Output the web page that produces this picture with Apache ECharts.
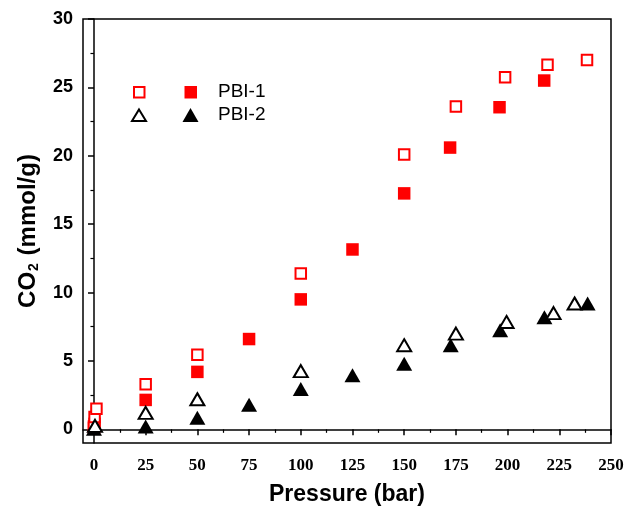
<!DOCTYPE html>
<html>
<head>
<meta charset="utf-8">
<script src="https://cdn.jsdelivr.net/npm/echarts@6/dist/echarts.min.js"></script>
<style>
  html, body { margin: 0; padding: 0; background: #fff; }
  #chart { width: 627px; height: 511px; }
</style>
</head>
<body>
<div id="chart"></div>
<script>
// CO2 uptake vs pressure for PBI-1 and PBI-2 (open and filled markers)
const xTicks = [0, 25, 50, 75, 100, 125, 150, 175, 200, 225, 250];
const xMinorTicks = [12.5, 37.5, 62.5, 87.5, 112.5, 137.5, 162.5, 187.5, 212.5, 237.5];
const yTicks = [0, 5, 10, 15, 20, 25, 30];
const yMinorTicks = [2.5, 7.5, 12.5, 17.5, 22.5, 27.5];

const pbi1Open = [[0, 0.2], [0.3, 0.9], [1.2, 1.5], [25, 3.3], [50, 5.45], [100, 11.4], [150, 20.1],
  [175, 23.6], [198.8, 25.75], [219.3, 26.65], [238.4, 27.0]];
const pbi1Filled = [[0, 0.1], [0.3, 0.4], [25, 2.15], [50, 4.2], [75, 6.6], [100, 9.5], [125, 13.15],
  [150, 17.25], [172.2, 20.6], [196.1, 23.55], [217.7, 25.5]];
const pbi2Open = [[0.5, 0.25], [25, 1.2], [50, 2.2], [100, 4.25], [150, 6.15], [175, 7.0],
  [199.5, 7.85], [222.2, 8.5], [232.4, 9.2]];
const pbi2Filled = [[0, 0.05], [25, 0.2], [50, 0.85], [75, 1.8], [100, 2.95], [125, 3.95],
  [150, 4.8], [172.5, 6.15], [196.4, 7.25], [217.8, 8.2], [238.7, 9.2]];

const RED = '#ff0000';
const BLACK = '#000000';
const sans = 'Liberation Sans, Arial, sans-serif';
const serif = 'Liberation Serif, Times New Roman, serif';

const chart = echarts.init(document.getElementById('chart'));

const baseX = { type: 'value', min: -5.3, max: 250, gridIndex: 0, position: 'bottom', splitLine: { show: false } };
const baseY = { type: 'value', min: -1, max: 30, gridIndex: 0, position: 'left', splitLine: { show: false } };

chart.setOption({
  animation: false,
  backgroundColor: '#fff',
  grid: { left: 83, right: 16, top: 19, bottom: 68, show: true, borderColor: BLACK, borderWidth: 1.5, backgroundColor: 'transparent' },
  xAxis: [
    Object.assign({}, baseX, {
      name: 'Pressure (bar)',
      nameLocation: 'middle',
      nameGap: 40,
      nameTextStyle: { fontFamily: sans, fontWeight: 'bold', fontSize: 23, color: BLACK },
      axisLine: { show: true, lineStyle: { color: BLACK, width: 1.5 } },
      axisTick: { show: true, inside: false, length: 6, customValues: xTicks, lineStyle: { color: BLACK, width: 1.5 } },
      axisLabel: { customValues: xTicks, margin: 14, fontFamily: serif, fontWeight: 'bold', fontSize: 17, color: BLACK }
    }),
    Object.assign({}, baseX, {
      axisLine: { show: false },
      axisTick: { show: true, inside: false, length: 3.5, customValues: xMinorTicks, lineStyle: { color: BLACK, width: 1.2 } },
      axisLabel: { show: false }
    })
  ],
  yAxis: [
    Object.assign({}, baseY, {
      name: '{a|CO}{s|2}{a| (mmol/g)}',
      nameLocation: 'middle',
      nameRotate: 90,
      nameGap: 42,
      nameTextStyle: {
        color: BLACK,
        rich: {
          a: { fontFamily: sans, fontWeight: 'bold', fontSize: 24, color: BLACK, lineHeight: 26 },
          s: { fontFamily: sans, fontWeight: 'bold', fontSize: 14, color: BLACK, verticalAlign: 'bottom', lineHeight: 16, padding: [12, 1, 0, 1] }
        }
      },
      axisLine: { show: true, lineStyle: { color: BLACK, width: 1.5 } },
      axisTick: { show: true, inside: false, length: 6, customValues: yTicks, lineStyle: { color: BLACK, width: 1.5 } },
      axisLabel: { customValues: yTicks, margin: 10, fontFamily: sans, fontWeight: 'bold', fontSize: 18, color: BLACK }
    }),
    Object.assign({}, baseY, {
      axisLine: { show: false },
      axisTick: { show: true, inside: false, length: 3.5, customValues: yMinorTicks, lineStyle: { color: BLACK, width: 1.2 } },
      axisLabel: { show: false }
    })
  ],
  series: [
    {
      name: 'PBI-1', type: 'scatter', data: pbi1Filled, symbol: 'rect', symbolSize: 12.5,
      itemStyle: { color: RED, opacity: 1 }, z: 2
    },
    {
      name: 'PBI-1 (open)', type: 'scatter', data: pbi1Open, symbol: 'rect', symbolSize: 10.5,
      itemStyle: { color: '#fff', borderColor: RED, borderWidth: 2, opacity: 1 }, z: 3
    },
    {
      name: 'PBI-2', type: 'scatter', data: pbi2Filled, symbol: 'triangle', symbolSize: [16, 14],
      itemStyle: { color: BLACK, opacity: 1 }, z: 4
    },
    {
      name: 'PBI-2 (open)', type: 'scatter', data: pbi2Open, symbol: 'triangle', symbolSize: [14, 12],
      itemStyle: { color: '#fff', borderColor: BLACK, borderWidth: 2, opacity: 1 }, z: 5
    }
  ],
  // key: open marker, filled marker, series name
  graphic: [
    { type: 'rect', shape: { x: 134, y: 87, width: 10.5, height: 10.5 }, style: { fill: '#fff', stroke: RED, lineWidth: 2 } },
    { type: 'rect', shape: { x: 184.5, y: 86, width: 12.5, height: 12.5 }, style: { fill: RED } },
    { type: 'text', left: 218, top: 82, style: { text: 'PBI-1', font: '19px ' + sans, fill: BLACK } },
    { type: 'polygon', shape: { points: [[139, 109.5], [146, 121], [132, 121]] }, style: { fill: '#fff', stroke: BLACK, lineWidth: 2 } },
    { type: 'polygon', shape: { points: [[190.5, 108], [198.5, 122], [182.5, 122]] }, style: { fill: BLACK } },
    { type: 'text', left: 218, top: 105, style: { text: 'PBI-2', font: '19px ' + sans, fill: BLACK } }
  ]
});
</script>
</body>
</html>
